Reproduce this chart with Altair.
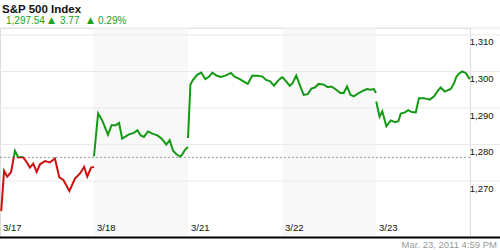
import altair as alt
import pandas as pd

# ---------------- data ----------------
days = ["3/17", "3/18", "3/21", "3/22", "3/23"]
shaded_days = [1, 3]  # index of day bands drawn in gray

# minutes since the open (9:30) and index level
t_0317 = [5, 17, 30, 46, 62, 76, 94, 108, 124, 138, 152, 166, 187, 207, 228, 246, 263, 288, 311, 332, 349, 362, 378, 390]
v_0317 = [1261.8, 1272.8, 1271.2, 1272.5, 1278.3, 1276.5, 1276.6, 1275.5, 1273.7, 1274.8, 1272.5, 1274.6, 1275.5, 1275.1,
          1276.2, 1271.0, 1270.3, 1267.3, 1270.7, 1272.1, 1273.9, 1271.2, 1273.7, 1273.9]

t_0318 = [0, 17, 34, 58, 73, 90, 104, 117, 145, 166, 180, 194, 207, 224, 242, 263, 281, 300, 314, 328, 341, 356, 364, 378, 390]
v_0318 = [1276.8, 1288.5, 1286.6, 1282.7, 1285.3, 1285.3, 1285.9, 1281.6, 1282.8, 1283.2, 1283.9, 1282.5, 1282.1, 1283.6,
          1283.0, 1282.5, 1281.6, 1280.0, 1281.2, 1278.3, 1277.4, 1276.8, 1277.1, 1278.6, 1279.3]

t_0321 = [0, 10, 21, 38, 55, 72, 88, 101, 118, 135, 153, 178, 195, 213, 230, 248, 267, 288, 309, 324, 341, 357, 371, 390]
v_0321 = [1281.8, 1296.4, 1297.7, 1299.1, 1299.7, 1297.9, 1298.6, 1299.7, 1298.9, 1298.5, 1298.8, 1299.6, 1298.5, 1298.0,
          1297.3, 1296.6, 1298.9, 1298.8, 1298.6, 1297.7, 1297.3, 1296.1, 1297.3, 1298.5]

t_0322 = [0, 17, 32, 44, 59, 76, 90, 107, 122, 136, 152, 173, 190, 205, 221, 242, 256, 270, 284, 298, 318, 339, 353, 367, 381, 390]
v_0322 = [1298.6, 1297.3, 1296.1, 1296.8, 1298.9, 1295.9, 1293.6, 1293.8, 1295.3, 1295.6, 1296.6, 1296.4, 1295.7, 1295.9,
          1295.2, 1294.1, 1294.1, 1295.9, 1293.6, 1293.2, 1294.1, 1294.8, 1295.2, 1295.0, 1295.2, 1294.1]

t_0323 = [1, 15, 26, 43, 61, 79, 93, 103, 120, 134, 148, 165, 178, 199, 223, 241, 254, 268, 286, 310, 324, 333, 344, 358, 372, 389]
v_0323 = [1291.8, 1287.6, 1289.1, 1285.0, 1286.6, 1286.1, 1286.4, 1288.5, 1288.8, 1289.4, 1288.9, 1288.8, 1292.7, 1292.7,
          1292.3, 1293.2, 1294.5, 1295.6, 1294.5, 1295.2, 1296.8, 1298.5, 1299.4, 1300.0, 1299.6, 1297.9]

reference_level = 1276.5
y_ticks = [1270, 1280, 1290, 1300, 1310]
y_domain = [1254.7, 1311.9]

title_text = "S&P 500 Index"
last_price = "1,297.54"
arrow = "▲"
change_text = "3.77"
pct_text = "0.29%"
timestamp = "Mar. 23, 2011 4:59 PM"

# ---------------- tables ----------------
series = [(t_0317, v_0317), (t_0318, v_0318), (t_0321, v_0321), (t_0322, v_0322), (t_0323, v_0323)]
rows = []
for i, (ts, vs) in enumerate(series):
    for t, v in zip(ts, vs):
        rows.append({"day": days[i], "pos": i + t / 390.0, "value": v})
df = pd.DataFrame(rows)

bands = pd.DataFrame({"start": shaded_days, "end": [d + 1 for d in shaded_days]})
day_df = pd.DataFrame({"day": days, "pos": list(range(len(days)))})
grid_df = pd.DataFrame({"value": y_ticks})
ref_df = pd.DataFrame({"value": [reference_level]})

W, H = 470, 209
xs = alt.Scale(domain=[0, 5])
ys = alt.Scale(domain=y_domain, zero=False, nice=False)

GREEN = "#139913"
RED = "#cc1111"
TXT_GREEN = "#22a022"

band_layer = alt.Chart(bands).mark_rect(color="#f8f8f8").encode(
    x=alt.X("start:Q", scale=xs, axis=None), x2="end:Q",
    y=alt.value(0), y2=alt.value(H))

grid_layer = alt.Chart(grid_df).mark_rule(color="#e9e9e9", strokeWidth=1).encode(
    y=alt.Y("value:Q", scale=ys, axis=alt.Axis(
        orient="right", values=y_ticks, format=",d", grid=False, ticks=False, domain=False,
        tickSize=0, labelAlign="right", labelBaseline="top", labelPadding=23, labelFontSize=9.5,
        labelFont="Liberation Sans", labelColor="#111", labelOffset=2, title=None)),
    x=alt.value(0), x2=alt.value(500))

top_rule = alt.Chart(ref_df).mark_rule(color="#e6e6e6").encode(
    x=alt.value(0), x2=alt.value(500), y=alt.value(0))

ref_layer = alt.Chart(ref_df).mark_rule(color="#9a9a9a", strokeDash=[2, 2], strokeWidth=1).encode(
    y=alt.Y("value:Q", scale=ys), x=alt.value(0), x2=alt.value(W))

green_days = alt.Chart(df[df.day != days[0]]).mark_line(color=GREEN, strokeWidth=2).encode(
    x=alt.X("pos:Q", scale=xs), y=alt.Y("value:Q", scale=ys), detail="day:N")

d0 = df[df.day == days[0]]
vmax, vmin = d0.value.max(), d0.value.min()
off = (vmax - reference_level) / (vmax - vmin)
grad = alt.Gradient(gradient="linear", x1=0, x2=0, y1=0, y2=1, stops=[
    alt.GradientStop(offset=0, color=GREEN), alt.GradientStop(offset=off, color=GREEN),
    alt.GradientStop(offset=off, color=RED), alt.GradientStop(offset=1, color=RED)])
first_day = alt.Chart(d0).mark_line(stroke=grad, strokeWidth=2).encode(
    x=alt.X("pos:Q", scale=xs), y=alt.Y("value:Q", scale=ys))

xlabels = alt.Chart(day_df).mark_text(align="left", baseline="alphabetic", dx=3, fontSize=9.5,
                                      font="Liberation Sans", color="#111").encode(
    x=alt.X("pos:Q", scale=xs), y=alt.value(H - 6), text="day:N")

bottom_rule = alt.Chart(ref_df).mark_rule(color="#000", strokeWidth=2).encode(
    x=alt.value(0), x2=alt.value(500), y=alt.value(H + 0.5))

def txt(s, x, y, **kw):
    kw.setdefault("font", "Liberation Sans")
    return alt.Chart(pd.DataFrame({"t": [s]})).mark_text(align="left", baseline="alphabetic", **kw).encode(
        text="t:N", x=alt.value(x), y=alt.value(y))

header = [
    txt(title_text, 2, 13 - 28, fontSize=11.5, fontWeight="bold", color="#111"),
    txt(last_price, 6, 24 - 28, fontSize=10, color=TXT_GREEN),
    txt(arrow, 48, 23 - 28, fontSize=9, color=TXT_GREEN, font="DejaVu Sans"),
    txt(change_text, 60, 24 - 28, fontSize=10, color=TXT_GREEN),
    txt(arrow, 87, 23 - 28, fontSize=9, color=TXT_GREEN, font="DejaVu Sans"),
    txt(pct_text, 98, 24 - 28, fontSize=10, color=TXT_GREEN),
]
footer = alt.Chart(pd.DataFrame({"t": [timestamp]})).mark_text(
    align="right", baseline="alphabetic", fontSize=9.5, font="Liberation Sans", color="#999").encode(
    text="t:N", x=alt.value(497), y=alt.value(248 - 28))

chart = alt.layer(band_layer, grid_layer, top_rule, ref_layer, green_days, first_day, xlabels,
                  bottom_rule, footer, *header).properties(
    width=W, height=H, autosize="none",
    padding={"left": 0, "top": 28, "right": 30, "bottom": 13},
).configure_view(stroke=None).configure(background="white")

chart.save("out.html", embed_options={"renderer": "svg", "actions": False})
